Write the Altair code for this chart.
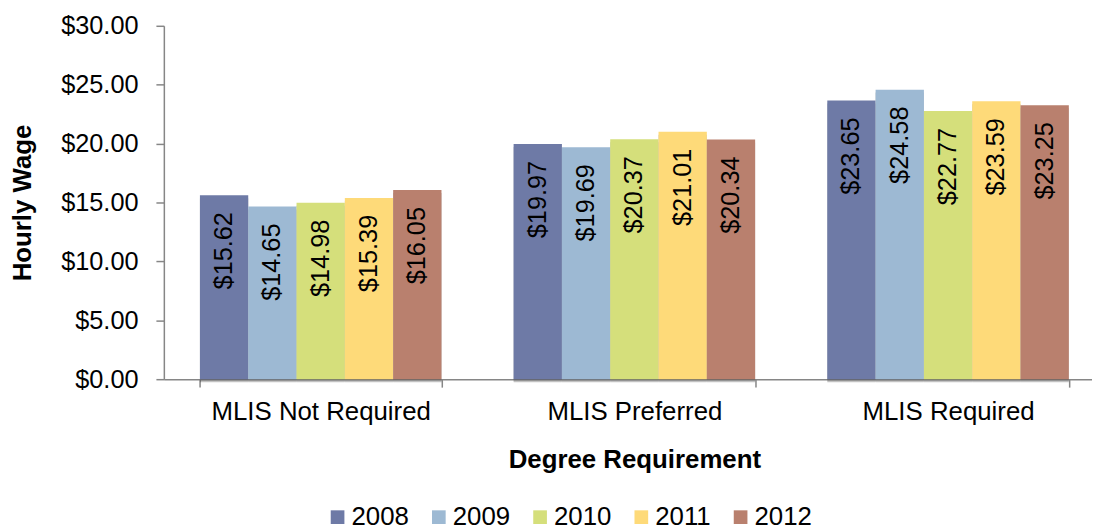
import altair as alt
import pandas as pd

categories = ["MLIS Not Required", "MLIS Preferred", "MLIS Required"]
years = ["2008", "2009", "2010", "2011", "2012"]
wages_not_required = [15.62, 14.65, 14.98, 15.39, 16.05]
wages_preferred = [19.97, 19.69, 20.37, 21.01, 20.34]
wages_required = [23.65, 24.58, 22.77, 23.59, 23.25]
colors = ["#6E7AA6", "#9DB9D3", "#D5DF7B", "#FEDA79", "#B9806E"]
y_ticks = [0, 5, 10, 15, 20, 25, 30]

rows = []
for cat, vals in zip(categories, [wages_not_required, wages_preferred, wages_required]):
    for yr, v in zip(years, vals):
        rows.append({"cat": cat, "year": yr, "wage": v, "label": f"${v:.2f}"})
df = pd.DataFrame(rows)

FONT = "Liberation Sans"
GRAY = "#868686"

x_enc = alt.X(
    "cat:N",
    sort=categories,
    scale=alt.Scale(domain=categories, range=[0, 948], paddingInner=0.23, paddingOuter=0.115),
    axis=alt.Axis(
        title="Degree Requirement",
        labelAngle=0,
        labelFontSize=26,
        labelPadding=12,
        labelLimit=0,
        labelColor="black",
        tickBand="extent",
        tickSize=8,
        tickColor=GRAY,
        domainColor=GRAY,
        domainWidth=1.5,
        tickWidth=1.5,
        titleFontSize=26,
        titleFontWeight="bold",
        titleColor="black",
        titlePadding=22,
    ),
)
xoff_enc = alt.XOffset("year:N", sort=years, scale=alt.Scale(domain=years, paddingInner=0, paddingOuter=0))
y_enc = alt.Y(
    "wage:Q",
    scale=alt.Scale(domain=[0, 30], nice=False),
    axis=alt.Axis(
        title="Hourly Wage",
        values=y_ticks,
        format="$.2f",
        labelFontSize=25.5,
        labelPadding=18,
        labelColor="black",
        tickSize=8,
        tickColor=GRAY,
        domainColor=GRAY,
        domainWidth=1.5,
        tickWidth=1.5,
        grid=False,
        titleFontSize=26,
        titleFontWeight="bold",
        titleColor="black",
        titlePadding=25,
    ),
)
color_enc = alt.Color(
    "year:N",
    sort=years,
    scale=alt.Scale(domain=years, range=colors),
    legend=alt.Legend(
        title=None,
        orient="none",
        direction="horizontal",
        legendX=162,
        legendY=482,
        symbolType="square",
        symbolSize=190,
        symbolStrokeWidth=0,
        labelFontSize=26,
        labelColor="black",
        labelOffset=1,
        columnPadding=17,
    ),
)

base = alt.Chart(df)

shadows = [
    base.mark_bar(color="black", opacity=op, xOffset=dx, yOffset=3).encode(x=x_enc, xOffset=xoff_enc, y=y_enc)
    for dx, op in [(2, 0.10), (4, 0.07), (6, 0.05), (8, 0.03)]
]

bars = base.mark_bar().encode(x=x_enc, xOffset=xoff_enc, y=y_enc, color=color_enc)

labels = base.mark_text(
    font=FONT, fontSize=25.5, angle=270, align="right", baseline="middle", dx=-17, color="black"
).encode(x=x_enc, xOffset=xoff_enc, y=y_enc, text="label:N")

chart = (
    alt.layer(*shadows, bars, labels)
    .properties(
        width=935,
        height=356,
        autosize=alt.AutoSizeParams(type="none"),
        padding={"left": 157, "top": 16, "right": 0, "bottom": 150},
    )
    .configure(font=FONT)
    .configure_view(stroke=None)
)

chart.save("out.html", embed_options={"renderer": "svg", "actions": False})
